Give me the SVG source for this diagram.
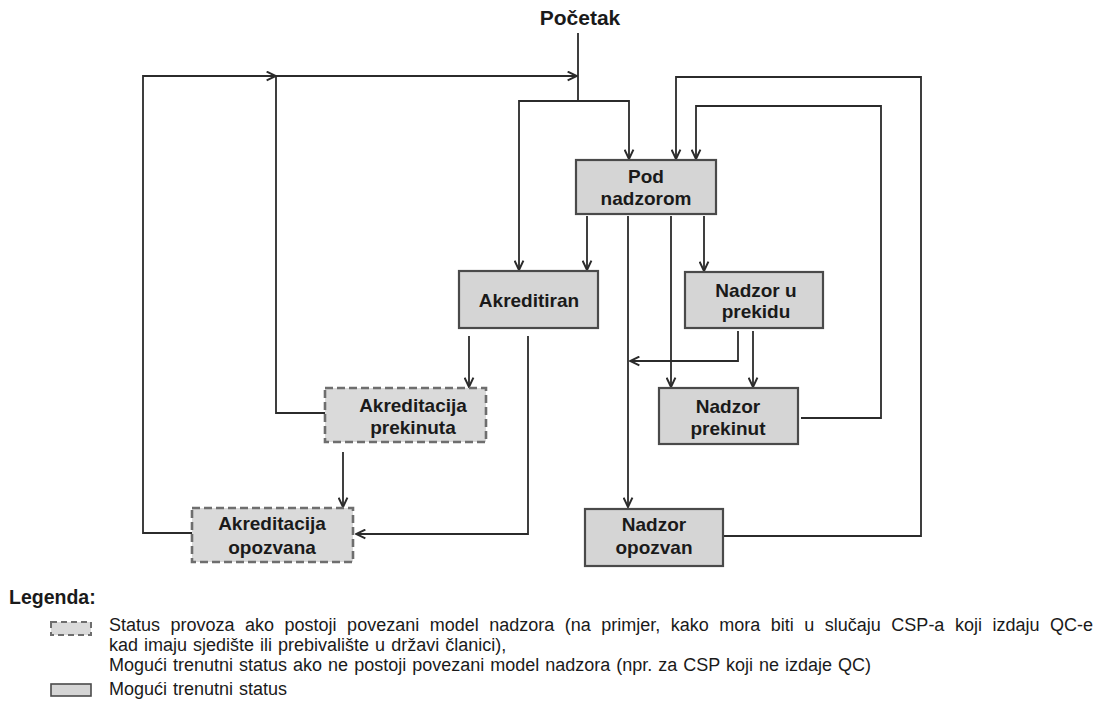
<svg xmlns="http://www.w3.org/2000/svg" width="1102" height="706" viewBox="0 0 1102 706">
<style>
.bg{fill:#ffffff}
.node{fill:#d5d5d5;stroke:#4a4a4a;stroke-width:2.2}
.dnode{fill:#dadada;stroke:#6e6e6e;stroke-width:2.6;stroke-dasharray:8 4}
.lbl{font-family:"Liberation Sans",Arial,sans-serif;font-weight:bold;font-size:19px;fill:#1a1a1a;text-anchor:middle}
.title{font-family:"Liberation Sans",Arial,sans-serif;font-weight:bold;font-size:21px;fill:#1a1a1a;text-anchor:middle}
.leg{font-family:"Liberation Sans",Arial,sans-serif;font-size:18px;word-spacing:1px;fill:#1a1a1a}
.just{word-spacing:5.5px}
.legh{font-family:"Liberation Sans",Arial,sans-serif;font-weight:bold;font-size:19.5px;fill:#1a1a1a}
.edge{fill:none;stroke:#2b2b2b;stroke-width:1.8}
</style>
<defs>
<marker id="arr" viewBox="0 0 10 10" refX="9.5" refY="5" markerWidth="11" markerHeight="11" markerUnits="userSpaceOnUse" orient="auto">
<path d="M1,1 L9.5,5 L1,9" fill="none" stroke="#2b2b2b" stroke-width="1.8"/>
</marker>
</defs>
<rect class="bg" x="0" y="0" width="1102" height="706"/>

<g id="start">
<text class="title" x="580" y="25">Početak</text>
</g>

<g id="connectors">
<polyline class="edge" points="578,33 578,101 629,101 629,159" marker-end="url(#arr)"/>
<polyline class="edge" points="578,101 519,101 519,270" marker-end="url(#arr)"/>
<polyline class="edge" points="587,216 587,270" marker-end="url(#arr)"/>
<polyline class="edge" points="628,216 628,507" marker-end="url(#arr)"/>
<polyline class="edge" points="671,216 671,387" marker-end="url(#arr)"/>
<polyline class="edge" points="704,216 704,271" marker-end="url(#arr)"/>
<polyline class="edge" points="753,331 753,387" marker-end="url(#arr)"/>
<polyline class="edge" points="738,331 738,361 630,361" marker-end="url(#arr)"/>
<polyline class="edge" points="801,418 881,418 881,106 696,106 696,159" marker-end="url(#arr)"/>
<polyline class="edge" points="724,536 921,536 921,77 676,77 676,159" marker-end="url(#arr)"/>
<polyline class="edge" points="469,336 469,387" marker-end="url(#arr)"/>
<polyline class="edge" points="528,336 528,534 356,534" marker-end="url(#arr)"/>
<polyline class="edge" points="343,452 343,507" marker-end="url(#arr)"/>
<polyline class="edge" points="325,413 276,413 276,76 577,76" marker-end="url(#arr)"/>
<polyline class="edge" points="192,533 143,533 143,76 276,76" marker-end="url(#arr)"/>
</g>

<g id="pod-nadzorom">
<rect class="node" x="576" y="160" width="140" height="54"/>
<text class="lbl" x="646" y="183">Pod</text>
<text class="lbl" x="646" y="205">nadzorom</text>
</g>

<g id="akreditiran">
<rect class="node" x="459" y="271" width="139" height="57"/>
<text class="lbl" x="529" y="307">Akreditiran</text>
</g>

<g id="nadzor-u-prekidu">
<rect class="node" x="685" y="272" width="138" height="56"/>
<text class="lbl" x="756" y="297">Nadzor u</text>
<text class="lbl" x="756" y="318">prekidu</text>
</g>

<g id="nadzor-prekinut">
<rect class="node" x="659" y="388" width="139" height="56"/>
<text class="lbl" x="728" y="413">Nadzor</text>
<text class="lbl" x="728" y="435">prekinut</text>
</g>

<g id="akreditacija-prekinuta">
<rect class="dnode" x="325" y="388" width="161" height="54"/>
<text class="lbl" x="413" y="412">Akreditacija</text>
<text class="lbl" x="413" y="434">prekinuta</text>
</g>

<g id="akreditacija-opozvana">
<rect class="dnode" x="192" y="508" width="161" height="54"/>
<text class="lbl" x="272" y="530">Akreditacija</text>
<text class="lbl" x="272" y="554">opozvana</text>
</g>

<g id="nadzor-opozvan">
<rect class="node" x="585" y="509" width="138" height="57"/>
<text class="lbl" x="654" y="531">Nadzor</text>
<text class="lbl" x="654" y="554">opozvan</text>
</g>

<g id="legend">
<text class="legh" x="9" y="604">Legenda:</text>
<rect class="dnode" x="51" y="622" width="40" height="13" style="stroke-width:2;stroke-dasharray:6 4"/>
<text class="leg just" x="109" y="631">Status provoza ako postoji povezani model nadzora (na primjer, kako mora biti u slučaju CSP-a koji izdaju QC-e</text>
<text class="leg" x="109" y="651">kad imaju sjedište ili prebivalište u državi članici),</text>
<text class="leg" x="109" y="671">Mogući trenutni status ako ne postoji povezani model nadzora (npr. za CSP koji ne izdaje QC)</text>
<rect class="node" x="51" y="684" width="40" height="12" style="stroke-width:1.6"/>
<text class="leg" x="109" y="695">Mogući trenutni status</text>
</g>
</svg>
